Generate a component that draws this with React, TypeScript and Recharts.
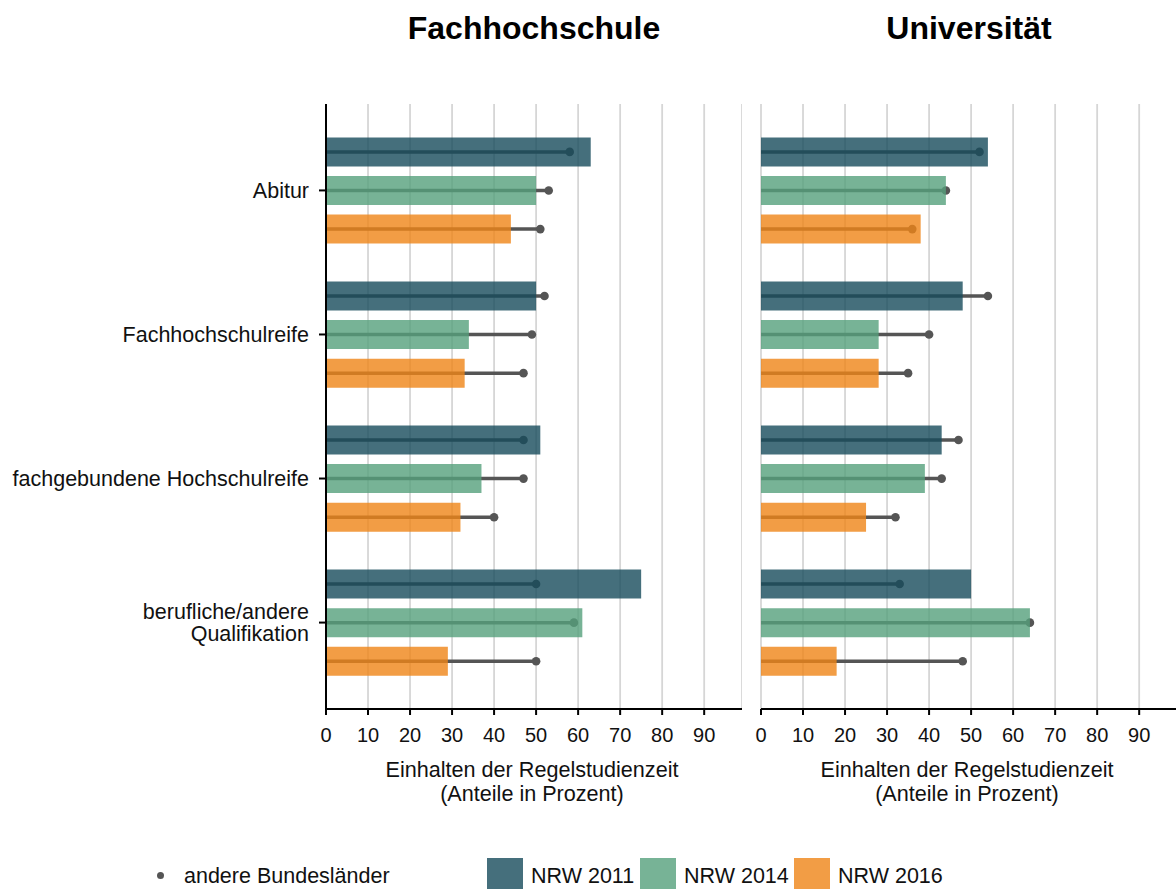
import React from 'react';
import { BarChart, Bar, XAxis, YAxis, CartesianGrid } from 'recharts';

// categories (y axis) and x ticks
const categories = [
  'Abitur',
  'Fachhochschulreife',
  'fachgebundene Hochschulreife',
  'berufliche/andere\nQualifikation',
];
const xTicks = [0, 10, 20, 30, 40, 50, 60, 70, 80, 90];

// Fachhochschule: NRW bars and "andere Bundesländer" points
const fhNrw2011 = [63, 50, 51, 75];
const fhNrw2014 = [50, 34, 37, 61];
const fhNrw2016 = [44, 33, 32, 29];
const fhOther2011 = [58, 52, 47, 50];
const fhOther2014 = [53, 49, 47, 59];
const fhOther2016 = [51, 47, 40, 50];

// Universität
const uniNrw2011 = [54, 48, 43, 50];
const uniNrw2014 = [44, 28, 39, 64];
const uniNrw2016 = [38, 28, 25, 18];
const uniOther2011 = [52, 54, 47, 33];
const uniOther2014 = [44, 40, 43, 64];
const uniOther2016 = [36, 35, 32, 48];

const seriesNames = ['NRW 2011', 'NRW 2014', 'NRW 2016'];
const colors = ['#164b5b', '#55a07c', '#ef8517'];
const BAR_OPACITY = 0.8;
const FONT = '"Liberation Sans", Arial, Helvetica, sans-serif';

const build = (n11, n14, n16, o11, o14, o16) =>
  categories.map((cat, i) => ({
    cat,
    n11: n11[i],
    n14: n14[i],
    n16: n16[i],
    o11: o11[i],
    o14: o14[i],
    o16: o16[i],
  }));

const fhData = build(fhNrw2011, fhNrw2014, fhNrw2016, fhOther2011, fhOther2014, fhOther2016);
const uniData = build(uniNrw2011, uniNrw2014, uniNrw2016, uniOther2011, uniOther2014, uniOther2016);

// line from 0 to the value with a dot at its end
const Lollipop = (props: any) => {
  const { x, y, width, height } = props;
  const cy = y + height / 2;
  return (
    <g>
      <line x1={x} y1={cy} x2={x + width} y2={cy} stroke="#555555" strokeWidth={3.5} />
      <circle cx={x + width} cy={cy} r={4.3} fill="#555555" />
    </g>
  );
};

const CatTick = (props: any) => {
  const { x, y, payload } = props;
  const lines = String(payload.value).split('\n');
  return (
    <g>
      {lines.map((l, i) => (
        <text
          key={i}
          x={x}
          y={y + (i - (lines.length - 1) / 2) * 22}
          dy="0.35em"
          textAnchor="end"
          fontSize={21.5}
          fontFamily={FONT}
          fill="#111"
        >
          {l}
        </text>
      ))}
    </g>
  );
};

const PLOT_W = 416;
const CHART_H = 890;
const PAD = 14.4;

const Panel = ({ data, showY }: { data: any[]; showY: boolean }) => {
  const yw = showY ? 326 : 0;
  const ml = showY ? 0 : 20;
  return (
    <BarChart
      width={ml + yw + PLOT_W}
      height={CHART_H}
      data={data}
      layout="vertical"
      margin={{ top: 104, right: 0, bottom: 0, left: ml }}
      barCategoryGap={19}
      barGap={9.6}
    >
      <CartesianGrid horizontal={false} stroke="#d6d6d6" strokeWidth={1.8} />
      <XAxis
        type="number"
        domain={[0, 99]}
        ticks={xTicks}
        height={CHART_H - 104 - 605}
        tickSize={6}
        tickMargin={13}
        axisLine={{ stroke: '#000', strokeWidth: 2 }}
        tickLine={{ stroke: '#000', strokeWidth: 2 }}
        tick={{ fontSize: 20, fontFamily: FONT, fill: '#111' }}
      />
      <YAxis
        yAxisId="main"
        type="category"
        dataKey="cat"
        hide={!showY}
        width={yw}
        padding={{ top: PAD, bottom: PAD }}
        tickSize={7}
        tickMargin={10}
        axisLine={{ stroke: '#000', strokeWidth: 2 }}
        tickLine={{ stroke: '#000', strokeWidth: 2 }}
        tick={<CatTick />}
      />
      <YAxis yAxisId="other" type="category" dataKey="cat" hide padding={{ top: PAD, bottom: PAD }} />
      <Bar yAxisId="other" dataKey="o11" shape={<Lollipop />} isAnimationActive={false} />
      <Bar yAxisId="other" dataKey="o14" shape={<Lollipop />} isAnimationActive={false} />
      <Bar yAxisId="other" dataKey="o16" shape={<Lollipop />} isAnimationActive={false} />
      <Bar yAxisId="main" dataKey="n11" name={seriesNames[0]} fill={colors[0]} fillOpacity={BAR_OPACITY} isAnimationActive={false} />
      <Bar yAxisId="main" dataKey="n14" name={seriesNames[1]} fill={colors[1]} fillOpacity={BAR_OPACITY} isAnimationActive={false} />
      <Bar yAxisId="main" dataKey="n16" name={seriesNames[2]} fill={colors[2]} fillOpacity={BAR_OPACITY} isAnimationActive={false} />
    </BarChart>
  );
};

const abs = (left: number, top: number, extra: React.CSSProperties = {}): React.CSSProperties => ({
  position: 'absolute',
  left,
  top,
  ...extra,
});

const AxisTitle = ({ cx }: { cx: number }) => (
  <div
    style={abs(cx - 200, 758, {
      width: 400,
      textAlign: 'center',
      fontSize: 21.6,
      lineHeight: '24px',
      color: '#111',
    })}
  >
    Einhalten der Regelstudienzeit
    <br />
    (Anteile in Prozent)
  </div>
);

const PanelTitle = ({ cx, text }: { cx: number; text: string }) => (
  <div
    style={abs(cx - 200, 10, {
      width: 400,
      textAlign: 'center',
      fontSize: 32,
      fontWeight: 'bold',
      lineHeight: '36px',
      color: '#000',
    })}
  >
    {text}
  </div>
);

const legendLeft = [487, 640, 794];

export default function App() {
  return (
    <div
      style={{
        position: 'absolute',
        left: 0,
        top: 0,
        width: 1176,
        height: 889,
        overflow: 'hidden',
        background: '#fff',
        fontFamily: FONT,
      }}
    >
      <PanelTitle cx={534} text="Fachhochschule" />
      <PanelTitle cx={969} text="Universität" />

      <div style={abs(0, 0)}>
        <Panel data={fhData} showY={true} />
      </div>
      <div style={abs(741, 0)}>
        <Panel data={uniData} showY={false} />
      </div>

      <AxisTitle cx={532} />
      <AxisTitle cx={967} />

      {/* legend */}
      <div style={abs(156.5, 872, { width: 7, height: 7, borderRadius: 4, background: '#555' })} />
      <div style={abs(184, 864, { fontSize: 21.5, lineHeight: '24px', color: '#111' })}>andere Bundesländer</div>
      {seriesNames.map((name, i) => (
        <React.Fragment key={name}>
          <div
            style={abs(legendLeft[i], 858, {
              width: 36,
              height: 31,
              background: colors[i],
              opacity: BAR_OPACITY,
            })}
          />
          <div style={abs(legendLeft[i] + 44, 864, { fontSize: 21.5, lineHeight: '24px', color: '#111' })}>
            {name}
          </div>
        </React.Fragment>
      ))}
    </div>
  );
}
